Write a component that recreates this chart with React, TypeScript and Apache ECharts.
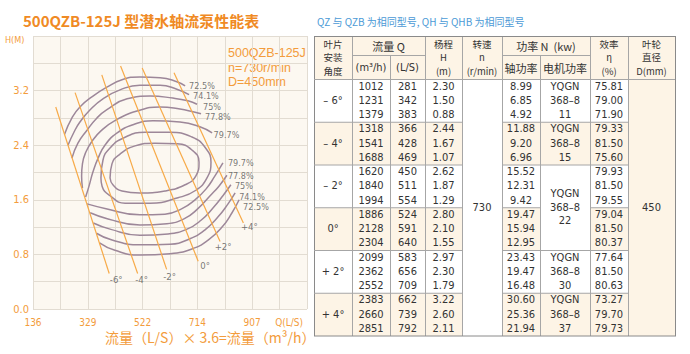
import React, { useEffect, useRef } from 'react';
import * as echarts from 'echarts';

// ---------------- chart data (Q in L/S, H in m) ----------------
const qOrigin = 136;
const qStep = 96.375;
const hStep = 0.4;

const angleNames = ['-6°', '-4°', '-2°', '0°', '+2°', '+4°'];
const angleM6 = [[216, 2.96], [404, 0.52]];
const angleM4 = [[284, 3.17], [504, 0.52]];
const angleM2 = [[378, 3.43], [606, 0.58]];
const angle0 = [[444, 3.56], [717, 0.7]];
const angleP2 = [[520, 3.53], [794, 0.99]];
const angleP4 = [[632, 3.46], [876, 1.26]];

const effUpper725 = [[247, 2.56], [273, 2.8], [301, 2.96], [347, 3.12], [396, 3.25], [449, 3.36], [512, 3.4], [583, 3.39], [642, 3.33], [671, 3.27]];
const effUpper741 = [[259, 2.4], [280, 2.59], [301, 2.74], [337, 2.92], [382, 3.08], [442, 3.21], [512, 3.28], [583, 3.28], [642, 3.22], [685, 3.14]];
const effUpper750 = [[273, 2.21], [294, 2.43], [326, 2.62], [361, 2.8], [396, 2.92], [467, 3.08], [548, 3.12], [628, 3.09], [681, 3.05], [713, 3.0]];
const effUpper778 = [[310, 1.77], [307, 1.95], [310, 2.13], [322, 2.3], [344, 2.46], [375, 2.61], [424, 2.76], [502, 2.9], [583, 2.96], [653, 2.93], [699, 2.89], [727, 2.86]];
const effUpper797 = [[321, 1.64], [333, 1.8], [347, 2.01], [365, 2.21], [389, 2.4], [432, 2.58], [488, 2.7], [558, 2.76], [653, 2.74], [723, 2.67], [766, 2.58]];

const effLower797 = [[326, 1.54], [393, 1.47], [512, 1.38], [600, 1.39], [660, 1.47], [706, 1.6], [745, 1.76], [776, 1.95], [804, 2.14]];
const effLower778 = [[337, 1.41], [400, 1.32], [512, 1.23], [607, 1.25], [667, 1.32], [716, 1.47], [759, 1.66], [790, 1.8], [818, 1.96]];
const effLower750 = [[348, 1.26], [407, 1.17], [512, 1.08], [611, 1.1], [678, 1.17], [727, 1.3], [769, 1.48], [804, 1.66], [832, 1.82]];
const effLower741 = [[359, 1.11], [414, 1.01], [512, 0.94], [618, 0.95], [688, 1.03], [741, 1.16], [787, 1.35], [822, 1.54], [847, 1.7]];
const effLower725 = [[370, 0.97], [424, 0.86], [512, 0.79], [618, 0.81], [695, 0.88], [752, 1.01], [801, 1.2], [836, 1.41], [861, 1.6]];

const effLoopA = [[375, 1.92], [382, 2.18], [407, 2.36], [456, 2.51], [530, 2.59], [618, 2.59], [695, 2.52], [741, 2.37], [762, 2.15], [748, 1.92], [709, 1.74], [646, 1.63], [548, 1.55], [460, 1.55], [407, 1.66], [379, 1.8], [375, 1.92]];
const effLoopB = [[407, 1.92], [414, 2.13], [442, 2.27], [495, 2.39], [565, 2.43], [643, 2.42], [695, 2.33], [720, 2.15], [709, 1.95], [671, 1.82], [600, 1.73], [512, 1.7], [449, 1.73], [417, 1.82], [407, 1.92]];

const effUpperNames = ['72.5%', '74.1%', '75%', '77.8%', '79.7%'];
const effLowerNames = ['79.7%', '77.8%', '75%', '74.1%', '72.5%'];

// ---------------- table data ----------------
const bladeAngles = ['– 6°', '– 4°', '– 2°', '0°', '+ 2°', '+ 4°'];
const flowM3h = ['1012', '1231', '1379', '1318', '1541', '1688', '1620', '1840', '1994', '1886', '2128', '2304', '2099', '2362', '2552', '2383', '2660', '2851'];
const flowLs = ['281', '342', '383', '366', '428', '469', '450', '511', '554', '524', '591', '640', '583', '656', '709', '662', '739', '792'];
const headM = ['2.30', '1.50', '0.88', '2.44', '1.67', '1.07', '2.62', '1.87', '1.29', '2.80', '2.10', '1.55', '2.97', '2.30', '1.79', '3.22', '2.60', '2.11'];
const shaftPower = ['8.99', '6.85', '4.92', '11.88', '9.20', '6.96', '15.52', '12.31', '9.42', '19.47', '15.94', '12.95', '23.43', '19.47', '16.48', '30.60', '25.36', '21.94'];
const efficiency = ['75.81', '79.00', '71.90', '79.33', '81.50', '75.60', '79.93', '81.50', '79.55', '79.04', '81.50', '80.37', '77.64', '81.50', '80.63', '73.27', '79.70', '79.73'];
const motorKw = ['11', '15', '22', '30', '37'];
const motorSpanGroups = [1, 1, 2, 1, 1];
const speedRpm = '730';
const diameterMm = '450';
const infoLines = ['500QZB-125J', 'n=730r/min', 'D=450mm'];

// ---------------- styles ----------------
const ORANGE = '#f39c3c';
const TITLE_ORANGE = '#f08a24';
const PURPLE = '#9d8799';
const LINE_ORANGE = '#f7aa48';
const GRID = '#e2dcd2';
const CREAM = '#fdf4e6';
const BORDER = '#a6a6a6';
const NARROW = "'Liberation Sans Narrow', 'Arial Narrow', 'DejaVu Sans Condensed', sans-serif";
const CJK = "'Noto Sans CJK SC', 'Noto Sans', sans-serif";
const SANS = "'Liberation Sans', Arial, sans-serif";

const angleLabelOffsets = [[7, 0], [4, 0], [3, 2], [7, -1], [3, 0], [6, -2]];
const upperLabelOffsets = [[3.5, 0], [3.5, 1.5], [5.5, 2.5], [3.5, 3.5], [1, 2]];
const lowerLabelOffsets = [[4.5, 0], [0.5, 1], [3.5, 1.7], [3.5, 3.8], [3.5, 7]];

const toXY = (p: number[]) => [p[0] - qOrigin, p[1]];

function buildTable() {
  const els: any[] = [];
  const cols = [314, 352, 390, 425, 462, 502, 540, 590, 628, 675];
  const top = 36.5, mid = 55.5, head = 79.5, rowH = 14.25;
  const nRows = flowM3h.length;
  const bottom = head + nRows * rowH;
  const rowY = (r: number) => head + r * rowH;
  const cx = (i: number) => (cols[i] + cols[i + 1]) / 2;
  const rect = (x1: number, y1: number, x2: number, y2: number, fill: string) =>
    els.push({ type: 'rect', silent: true, z: 1, shape: { x: x1, y: y1, width: x2 - x1, height: y2 - y1 }, style: { fill } });
  const line = (x1: number, y1: number, x2: number, y2: number, c = BORDER) =>
    els.push({ type: 'line', silent: true, z: 2, shape: { x1, y1, x2, y2 }, style: { stroke: c, lineWidth: 1 } });
  const text = (t: string, x: number, y: number, size = 11, family = NARROW, lineHeight?: number) =>
    els.push({
      type: 'text', silent: true, z: 3, x, y,
      style: { text: t, x: 0, y: 0, align: 'center', verticalAlign: 'middle', fill: '#333', fontSize: size, fontFamily: family, lineHeight },
    });

  // backgrounds
  rect(cols[0], top, cols[9], head, CREAM);
  rect(cols[8], head, cols[9], bottom, CREAM);
  for (let g = 0; g < 6; g++) {
    if (g % 2 === 1) {
      const yA = rowY(g * 3), yB = rowY(g * 3 + 3);
      rect(cols[0], yA, cols[4], yB, CREAM);
      rect(cols[5], yA, cols[6], yB, CREAM);
      if (g !== 3) rect(cols[6], yA, cols[7], yB, CREAM);
      rect(cols[7], yA, cols[8], yB, CREAM);
    }
  }

  // vertical lines
  const full = [0, 1, 3, 4, 5, 7, 8, 9];
  full.forEach((i) => line(cols[i] + 0.5, top, cols[i] + 0.5, bottom, i === 0 || i === 9 ? '#8a8a8a' : BORDER));
  [2, 6].forEach((i) => line(cols[i] + 0.5, mid, cols[i] + 0.5, bottom));
  // horizontal lines
  line(cols[0], top, cols[9] + 1, top, '#8a8a8a');
  line(cols[1], mid, cols[3], mid);
  line(cols[5], mid, cols[7], mid);
  line(cols[0], head, cols[9], head);
  for (let g = 1; g < 6; g++) {
    const y = rowY(g * 3);
    line(cols[0], y, cols[4], y);
    if (g === 3) {
      line(cols[5], y, cols[6], y);
      line(cols[7], y, cols[8], y);
    } else {
      line(cols[5], y, cols[8], y);
    }
  }
  line(cols[0], bottom, cols[9] + 1, bottom, '#8a8a8a');

  // header texts (three-line stacks)
  const hMid = 57, lh = 13.5, hs = 9.5;
  text('叶片\n安装\n角度', cx(0), hMid, hs, CJK, lh);
  text('杨程\nH\n(m)', cx(3), hMid, hs, CJK, lh);
  text('转速\nn\n(r/min)', cx(4), hMid, hs, CJK, lh);
  text('效率\nη\n(%)', cx(7), hMid, hs, CJK, lh);
  text('叶轮\n直径\nD(mm)', cx(8), hMid, hs, CJK, lh);
  text('流量 Q', (cols[1] + cols[3]) / 2, 46, 11, CJK);
  text('(m³/h)', cx(1), 67.5, 11, NARROW); text('(L/S)', cx(2), 67.5, 11, NARROW);
  text('功率 N  (kw)', (cols[5] + cols[7]) / 2, 46, 11, CJK);
  text('轴功率', cx(5), 67.5, 11, CJK); text('电机功率', cx(6), 67.5, 11, CJK);

  // body texts
  for (let r = 0; r < nRows; r++) {
    const y = rowY(r + 0.5) - 0.5;
    text(flowM3h[r], cx(1), y);
    text(flowLs[r], cx(2), y);
    text(headM[r], cx(3), y);
    text(shaftPower[r], cx(5), y);
    text(efficiency[r], cx(7), y);
  }
  bladeAngles.forEach((a, g) => text(a, cx(0), rowY(g * 3 + 1.5) - 0.5));
  let g0 = 0;
  motorKw.forEach((kw, i) => {
    const span = motorSpanGroups[i];
    const yc = (rowY(g0 * 3) + rowY((g0 + span) * 3)) / 2 - 0.5;
    const d = span > 1 ? 13.5 : rowH;
    text('YQGN', cx(6), yc - d);
    text('368–8', cx(6), yc);
    text(kw, cx(6), yc + d);
    g0 += span;
  });
  text(speedRpm, cx(4), (head + bottom) / 2);
  text(diameterMm, cx(8), (head + bottom) / 2);
  return els;
}

function buildOption() {
  const series: any[] = [];
  const effCurves = [effUpper725, effUpper741, effUpper750, effUpper778, effUpper797,
    effLower797, effLower778, effLower750, effLower741, effLower725, effLoopA, effLoopB];
  effCurves.forEach((pts) => series.push({
    type: 'line', data: pts.map(toXY), smooth: 0.5, symbol: 'none', silent: true, z: 2,
    lineStyle: { color: PURPLE, width: 1.5 },
  }));
  const angleLines = [angleM6, angleM4, angleM2, angle0, angleP2, angleP4];
  angleLines.forEach((pts) => series.push({
    type: 'line', data: pts.map(toXY), symbol: 'none', silent: true, z: 3,
    lineStyle: { color: LINE_ORANGE, width: 1.2 },
  }));

  const labelData: any[] = [];
  const upper = [effUpper725, effUpper741, effUpper750, effUpper778, effUpper797];
  const lower = [effLower797, effLower778, effLower750, effLower741, effLower725];
  const effLabelStyle = { show: true, color: '#555', fontSize: 9, fontFamily: NARROW, distance: 0, position: 'right' };
  upper.forEach((pts, i) => labelData.push({
    value: toXY(pts[pts.length - 1]),
    label: { ...effLabelStyle, formatter: effUpperNames[i], offset: upperLabelOffsets[i] },
  }));
  lower.forEach((pts, i) => labelData.push({
    value: toXY(pts[pts.length - 1]),
    label: { ...effLabelStyle, formatter: effLowerNames[i], offset: lowerLabelOffsets[i] },
  }));
  angleLines.forEach((pts, i) => labelData.push({
    value: toXY(pts[pts.length - 1]),
    label: { ...effLabelStyle, fontSize: 9.5, position: 'bottom', formatter: angleNames[i], offset: angleLabelOffsets[i] },
  }));
  series.push({
    type: 'scatter', data: labelData, symbolSize: 1, silent: true, z: 4,
    itemStyle: { color: 'rgba(0,0,0,0)' },
  });

  const infoText = infoLines.map((t, i) => ({
    type: 'text', x: 228, y: 53 + i * 14.5, silent: true,
    style: { text: t, x: 0, y: 0, verticalAlign: 'middle', fill: ORANGE, fontSize: 12.5, fontFamily: SANS },
  }));

  const graphic: any[] = [
    { type: 'text', x: 23, y: 20, silent: true, style: { text: '500QZB-125J 型潜水轴流泵性能表', x: 0, y: 0, verticalAlign: 'middle', fill: TITLE_ORANGE, fontSize: 15, fontWeight: 'bold', fontFamily: CJK } },
    { type: 'text', x: 317, y: 21, silent: true, style: { text: 'QZ 与 QZB 为相同型号, QH 与 QHB 为相同型号', x: 0, y: 0, verticalAlign: 'middle', fill: '#4b9ad6', fontSize: 10, fontFamily: CJK } },
    { type: 'text', x: 5, y: 40, silent: true, style: { text: 'H(M)', x: 0, y: 0, verticalAlign: 'middle', fill: ORANGE, fontSize: 9, fontFamily: NARROW } },
    ...infoText,
    { type: 'text', x: 303, y: 322, silent: true, style: { text: 'Q(L/S)', x: 0, y: 0, align: 'right', verticalAlign: 'middle', fill: ORANGE, fontSize: 10, fontFamily: NARROW } },
    { type: 'text', x: 105, y: 337, silent: true, style: { text: '流量（L/S）× 3.6=流量（m³/h）', x: 0, y: 0, verticalAlign: 'middle', fill: ORANGE, fontSize: 14, fontFamily: CJK } },
    ...buildTable(),
  ];

  return {
    animation: false,
    backgroundColor: '#ffffff',
    grid: { left: 33, right: 383, top: 36, bottom: 45, show: true, backgroundColor: '#fcf8f1', borderWidth: 0 },
    xAxis: {
      type: 'value', min: 0, max: qStep * 10, interval: qStep,
      axisLine: { show: false }, axisTick: { show: false },
      splitLine: { show: true, lineStyle: { color: GRID, width: 1 } },
      axisLabel: {
        color: ORANGE, fontSize: 10, fontFamily: NARROW, margin: 8,
        formatter: (v: number) => {
          const k = Math.round(v / qStep);
          if (k % 2 !== 0 || k > 8) return '';
          return String(Math.round(v + qOrigin));
        },
      },
    },
    yAxis: {
      type: 'value', min: 0, max: 4, interval: hStep,
      axisLine: { show: false }, axisTick: { show: false },
      splitLine: { show: true, lineStyle: { color: GRID, width: 1 } },
      axisLabel: {
        color: ORANGE, fontSize: 11, fontFamily: NARROW, margin: 4,
        formatter: (v: number) => {
          const k = Math.round(v * 10);
          if (k % 8 !== 0 || k >= 40) return '';
          return v.toFixed(1);
        },
      },
    },
    series,
    graphic,
  };
}

export default function App() {
  const ref = useRef<HTMLDivElement>(null);
  useEffect(() => {
    if (!ref.current) return;
    const chart = echarts.init(ref.current, null, { renderer: 'svg' });
    chart.setOption(buildOption() as any);
    return () => chart.dispose();
  }, []);
  return <div ref={ref} style={{ position: 'absolute', left: 0, top: 0, width: 690, height: 354, background: '#fff' }} />;
}
